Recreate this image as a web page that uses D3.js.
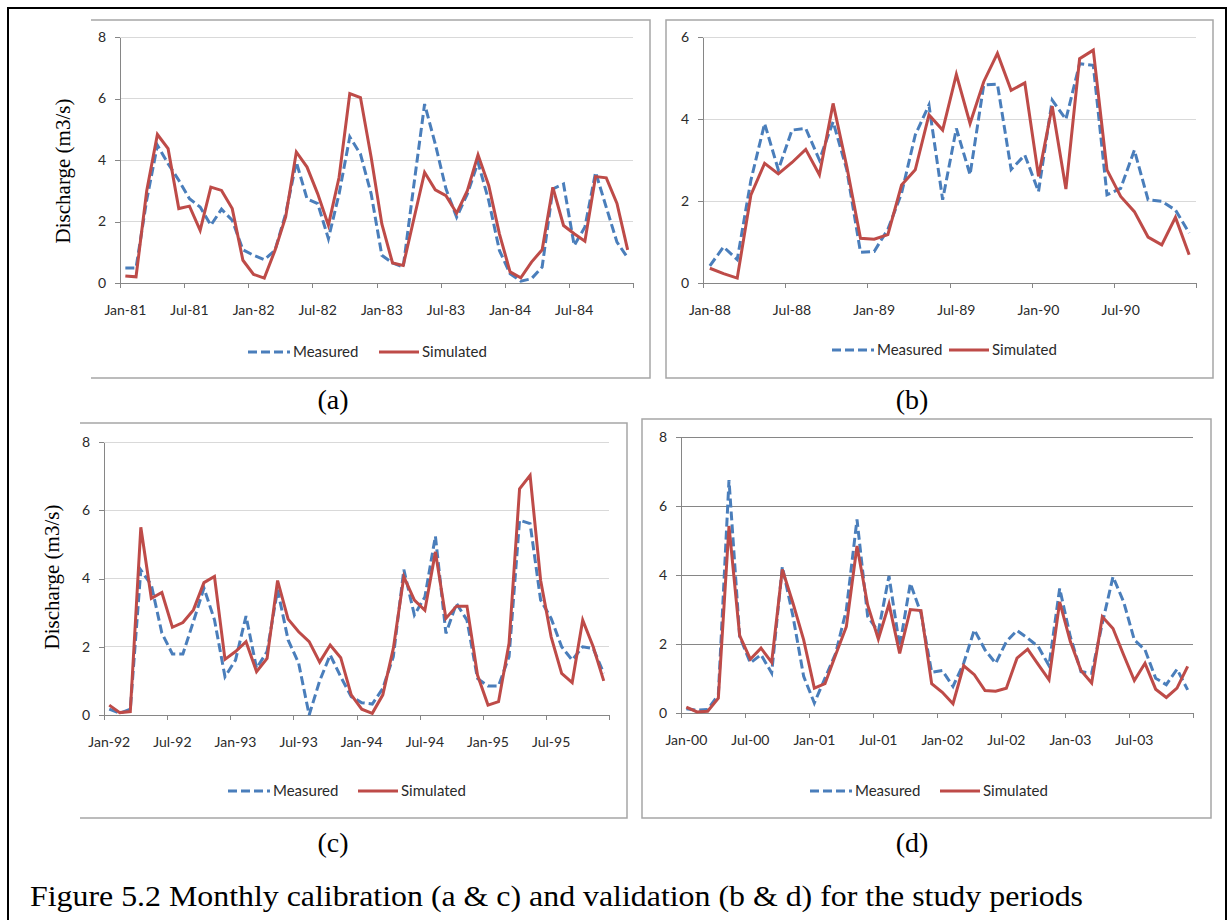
<!DOCTYPE html>
<meta charset="utf-8">
<head>
<style>
body { margin: 0; background: #fff; }
.axis .domain, .axis line { stroke: #868686; stroke-width: 1px; shape-rendering: crispEdges; }
.axis text { font-family: "Lato", sans-serif; font-size: 14px; fill: #2a2a2a; }
.frame { stroke: #a6a6a6; stroke-width: 1.5px; fill: none; }
.legend text { font-family: "Lato", sans-serif; font-size: 15px; fill: #2a2a2a; }
.ytitle, .plabel, .caption { font-family: "Liberation Serif", "Times New Roman", serif; fill: #000; }
.measured { stroke: #4a7ebb; stroke-width: 3px; stroke-dasharray: 9,4; fill: none; }
.simulated { stroke: #be4b48; stroke-width: 3px; fill: none; }
</style>
<script src="https://d3js.org/d3.v7.min.js"></script>
</head>
<body>
<div id="chart"></div>
<script>

// (a) calibration 1981-1984
var measuredA = [0.49,0.49,2.7,4.48,3.88,3.34,2.74,2.47,1.88,2.4,2.04,1.08,
  0.9,0.76,1.06,2.25,3.93,2.74,2.58,1.44,2.9,4.75,4.19,2.9,
  0.9,0.65,0.52,3.2,5.82,4.52,3.06,2.14,2.9,3.92,2.68,1.06,
  0.3,0.06,0.14,0.52,3.06,3.22,1.22,1.82,3.6,2.46,1.33,0.82];
var simulatedA = [0.23,0.2,3.0,4.83,4.37,2.42,2.5,1.71,3.12,3.01,2.42,0.74,
  0.28,0.16,1.06,2.15,4.26,3.77,2.9,1.88,3.44,6.16,6.03,4.09,
  1.92,0.65,0.57,2.09,3.6,3.03,2.84,2.27,3.0,4.17,3.17,1.6,
  0.36,0.17,0.68,1.08,3.11,1.87,1.6,1.36,3.46,3.42,2.59,1.08];
var ticksA = ["Jan-81","Jul-81","Jan-82","Jul-82","Jan-83","Jul-83","Jan-84","Jul-84"];

// (b) validation 1988-1990
var measuredB = [0.42,0.88,0.57,2.51,3.89,2.76,3.73,3.77,3.0,3.93,2.76,0.75,
  0.77,1.31,2.19,3.61,4.34,2.03,3.77,2.64,4.83,4.85,2.77,3.12,
  2.23,4.46,3.99,5.35,5.31,2.15,2.31,3.24,2.03,1.99,1.78,1.22];
var simulatedB = [0.36,0.23,0.12,2.15,2.92,2.66,2.94,3.26,2.64,4.38,2.84,1.09,
  1.07,1.18,2.39,2.76,4.1,3.73,5.09,3.89,4.91,5.6,4.7,4.88,
  2.6,4.31,2.29,5.47,5.68,2.76,2.11,1.74,1.12,0.93,1.6,0.69];
var ticksB = ["Jan-88","Jul-88","Jan-89","Jul-89","Jan-90","Jul-90"];

// (c) calibration 1992-1995
var measuredC = [0.17,0.05,0.17,4.25,3.81,2.4,1.79,1.79,2.74,3.72,2.79,1.12,
  1.61,2.9,1.37,1.86,3.67,2.2,1.52,0.0,1.0,1.76,1.12,0.54,
  0.36,0.32,0.78,1.71,4.26,2.93,3.46,5.24,2.39,3.27,2.78,1.07,
  0.85,0.85,1.71,5.71,5.61,3.37,2.83,2.0,1.61,2.0,1.95,1.22];
var simulatedC = [0.29,0.07,0.1,5.5,3.42,3.59,2.57,2.71,3.08,3.88,4.06,1.63,
  1.86,2.15,1.27,1.66,3.94,2.81,2.44,2.15,1.55,2.05,1.68,0.59,
  0.17,0.05,0.59,1.95,4.05,3.37,3.07,4.78,2.83,3.19,3.19,1.17,
  0.29,0.39,2.1,6.63,7.02,3.95,2.29,1.22,0.95,2.78,2.0,1.0];
var ticksC = ["Jan-92","Jul-92","Jan-93","Jul-93","Jan-94","Jul-94","Jan-95","Jul-95"];

// (d) validation 2000-2003
var measuredD = [0.12,0.08,0.1,0.53,6.75,2.22,1.45,1.69,1.16,4.24,2.8,1.06,
  0.29,1.01,1.73,2.99,5.61,2.8,2.36,3.97,1.93,3.76,2.89,1.18,
  1.23,0.77,1.44,2.41,1.83,1.44,2.07,2.39,2.17,1.92,1.37,3.61,
  2.21,1.2,1.15,2.6,3.95,3.22,2.12,1.83,1.01,0.82,1.27,0.67];
var simulatedD = [0.17,0.03,0.05,0.43,5.42,2.24,1.56,1.88,1.47,4.16,3.18,2.12,
  0.72,0.85,1.69,2.5,4.84,3.13,2.14,3.16,1.73,3.0,2.97,0.85,
  0.6,0.27,1.37,1.11,0.65,0.63,0.72,1.59,1.85,1.4,0.96,3.22,
  2.07,1.23,0.87,2.79,2.45,1.68,0.94,1.44,0.69,0.45,0.72,1.35];
var ticksD = ["Jan-00","Jul-00","Jan-01","Jul-01","Jan-02","Jul-02","Jan-03","Jul-03"];

var seriesNames = ["Measured", "Simulated"];
var caption = "Figure 5.2 Monthly calibration (a & c) and validation (b & d) for the study periods";

// legend: [x, y, offset of the red sample]
var panels = [
  {name: "(a)", start: new Date(1981, 0, 1), measured: measuredA, simulated: simulatedA, ticks: ticksA,
   yTicks: [0,2,4,6,8], x0: 120, x1: 633, y0: 283, y1: 37, grid: "#d9d9d9",
   frame: {l: 91, r: 650, t: 20, b: 378, left: false}, legend: [248, 352, 131], label: [333, 409], title: [63, 171]},
  {name: "(b)", start: new Date(1988, 0, 1), measured: measuredB, simulated: simulatedB, ticks: ticksB,
   yTicks: [0,2,4,6], x0: 703, x1: 1196, y0: 283, y1: 37, grid: "#d9d9d9",
   frame: {l: 666, r: 1213, t: 20, b: 378, left: true}, legend: [832, 350, 117], label: [912, 409]},
  {name: "(c)", start: new Date(1992, 0, 1), measured: measuredC, simulated: simulatedC, ticks: ticksC,
   yTicks: [0,2,4,6,8], x0: 104, x1: 609, y0: 715, y1: 442, grid: "#d9d9d9",
   frame: {l: 80, r: 627, t: 423, b: 818, left: false}, legend: [228, 791, 130], label: [333, 852], title: [52, 577]},
  {name: "(d)", start: new Date(2000, 0, 1), measured: measuredD, simulated: simulatedD, ticks: ticksD,
   yTicks: [0,2,4,6,8], x0: 681, x1: 1193, y0: 713, y1: 437, grid: "#868686",
   frame: {l: 642, r: 1211, t: 419, b: 818, left: true}, legend: [810, 791, 130], label: [912, 852]}
];

var svg = d3.select("#chart").append("svg")
  .attr("width", 1230)
  .attr("height", 920);

// outer frame of the figure
svg.append("path")
  .attr("d", "M8,930 V8 H1226 V930")
  .attr("stroke", "#000")
  .attr("stroke-width", 2)
  .attr("fill", "none");

var fmt = d3.timeFormat("%b-%y");

panels.forEach(function(p) {
  var n = p.measured.length;
  var months = d3.timeMonth.range(p.start, d3.timeMonth.offset(p.start, n)).map(fmt);

  var x = d3.scaleBand().domain(months).range([p.x0, p.x1]);
  var xIdx = d3.scaleLinear().domain([0, n]).range([p.x0, p.x1]);
  var y = d3.scaleLinear().domain([0, d3.max(p.yTicks)]).range([p.y0, p.y1]);

  var f = p.frame;
  svg.append("path")
    .attr("class", "frame")
    .attr("d", f.left
      ? "M" + f.l + "," + f.t + " H" + f.r + " V" + f.b + " H" + f.l + " Z"
      : "M" + f.l + "," + f.t + " H" + f.r + " V" + f.b + " H" + f.l);

  // gridlines
  svg.append("g").selectAll("line")
    .data(p.yTicks.filter(function(v) { return v > 0; }))
    .enter().append("line")
      .attr("x1", p.x0).attr("x2", p.x1)
      .attr("y1", function(d) { return y(d); })
      .attr("y2", function(d) { return y(d); })
      .attr("stroke", p.grid)
      .attr("shape-rendering", "crispEdges");

  // y axis
  svg.append("g")
    .attr("class", "axis")
    .attr("transform", "translate(" + p.x0 + ",0)")
    .call(d3.axisLeft(y).tickValues(p.yTicks).tickFormat(d3.format("d"))
      .tickSizeInner(5).tickSizeOuter(0).tickPadding(9));

  // x axis: tick marks on month boundaries, labels centred on months
  svg.append("g")
    .attr("class", "axis")
    .attr("transform", "translate(0," + p.y0 + ")")
    .call(d3.axisBottom(xIdx).tickValues(d3.range(0, n + 1, 6)).tickFormat("").tickSizeInner(5).tickSizeOuter(0));
  var lab = svg.append("g")
    .attr("class", "axis")
    .attr("transform", "translate(0," + p.y0 + ")")
    .call(d3.axisBottom(x).tickValues(p.ticks).tickSize(0).tickPadding(22));
  lab.select(".domain").remove();

  var line = d3.line()
    .x(function(d, i) { return x(months[i]) + x.bandwidth() / 2; })
    .y(function(d) { return y(d); });

  svg.append("path").attr("class", "measured").attr("d", line(p.measured));
  svg.append("path").attr("class", "simulated").attr("d", line(p.simulated));

  // legend
  var r = p.legend[2];
  var lg = svg.append("g").attr("class", "legend")
    .attr("transform", "translate(" + p.legend[0] + "," + p.legend[1] + ")");
  lg.append("line").attr("class", "measured").attr("x1", 0).attr("x2", 42).attr("y1", 0).attr("y2", 0);
  lg.append("text").attr("x", 45).attr("y", 5).text(seriesNames[0]);
  lg.append("line").attr("class", "simulated").attr("x1", r).attr("x2", r + 40).attr("y1", 0).attr("y2", 0);
  lg.append("text").attr("x", r + 43).attr("y", 5).text(seriesNames[1]);

  svg.append("text")
    .attr("class", "plabel")
    .attr("x", p.label[0]).attr("y", p.label[1])
    .attr("text-anchor", "middle")
    .attr("font-size", 28)
    .text(p.name);

  if (p.title) {
    svg.append("text")
      .attr("class", "ytitle")
      .attr("transform", "translate(" + p.title[0] + "," + p.title[1] + ") rotate(-90)")
      .attr("text-anchor", "middle")
      .attr("dy", "0.35em")
      .attr("font-size", 21)
      .text("Discharge (m3/s)");
  }
});

svg.append("text")
  .attr("class", "caption")
  .attr("x", 30).attr("y", 906)
  .attr("font-size", 30)
  .attr("textLength", 1053)
  .attr("lengthAdjust", "spacingAndGlyphs")
  .text(caption);

</script>
</body>
</html>
